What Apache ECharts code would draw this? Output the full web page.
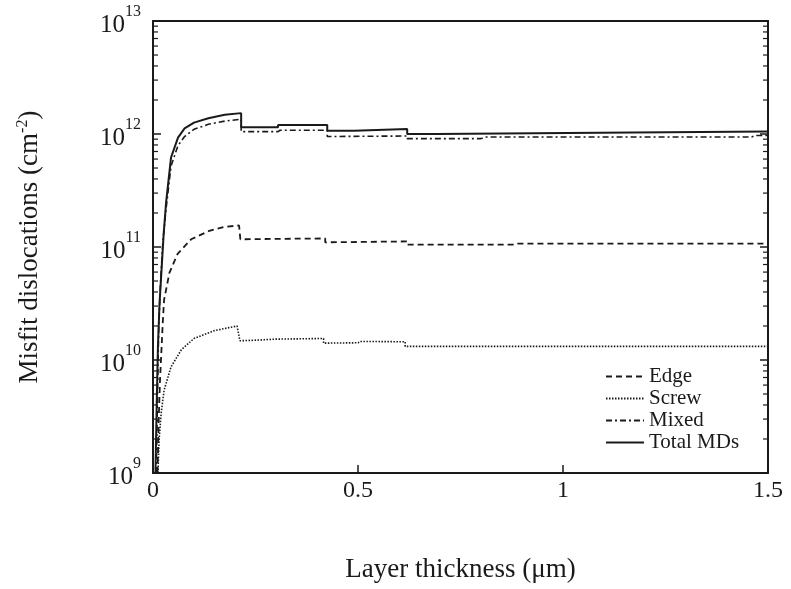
<!DOCTYPE html>
<html>
<head>
<meta charset="utf-8">
<script src="https://cdn.jsdelivr.net/npm/echarts@6/dist/echarts.min.js"></script>
<style>
  html, body { margin: 0; padding: 0; background: #fff; }
  #chart { width: 791px; height: 589px; }
</style>
</head>
<body>
<div id="chart"></div>
<script>
// [thickness (um), density (cm^-2)]
const edge = [
  [0.011, 1e9], [0.014, 3e9], [0.017, 6.5e9], [0.02, 1.1e10], [0.024, 2.2e10],
  [0.027, 3.4e10], [0.04, 5.9e10], [0.06, 8.7e10], [0.093, 1.17e11],
  [0.135, 1.38e11], [0.175, 1.51e11], [0.21, 1.55e11], [0.213, 1.17e11],
  [0.30, 1.18e11], [0.42, 1.19e11], [0.42, 1.1e11], [0.62, 1.12e11],
  [0.62, 1.05e11], [0.885, 1.05e11], [0.89, 1.07e11], [1.5, 1.07e11]
]
const screw = [
  [0.012, 1e9], [0.015, 2e9], [0.02, 3.4e9], [0.027, 5.4e9], [0.044, 8.7e9],
  [0.069, 1.23e10], [0.10, 1.55e10], [0.15, 1.82e10], [0.19, 1.95e10],
  [0.205, 2.0e10], [0.212, 1.48e10], [0.255, 1.5e10], [0.30, 1.53e10],
  [0.416, 1.55e10], [0.416, 1.41e10], [0.50, 1.42e10], [0.505, 1.46e10],
  [0.615, 1.45e10], [0.615, 1.32e10], [1.5, 1.32e10]
]
const mixed = [
  [0.008, 1e9], [0.011, 5e9], [0.014, 2e10], [0.018, 4.5e10], [0.024, 1.1e11],
  [0.032, 2.2e11], [0.044, 5.2e11], [0.061, 7.9e11], [0.077, 9.5e11],
  [0.10, 1.1e12], [0.135, 1.22e12], [0.175, 1.3e12], [0.215, 1.35e12],
  [0.215, 1.05e12], [0.305, 1.05e12], [0.31, 1.08e12], [0.425, 1.08e12],
  [0.425, 0.95e12], [0.62, 0.96e12], [0.62, 0.91e12], [0.80, 0.91e12],
  [0.81, 0.94e12], [1.46, 0.94e12], [1.47, 0.97e12], [1.5, 0.97e12]
]
const total = [
  [0.006, 1e9], [0.009, 4e9], [0.012, 1.3e10], [0.016, 3.2e10], [0.02, 5.6e10],
  [0.026, 1.3e11], [0.032, 2.5e11], [0.044, 6.2e11], [0.061, 9.3e11],
  [0.077, 1.12e12], [0.10, 1.26e12], [0.135, 1.38e12], [0.175, 1.48e12],
  [0.215, 1.53e12], [0.215, 1.15e12], [0.305, 1.15e12], [0.305, 1.2e12],
  [0.425, 1.2e12], [0.425, 1.07e12], [0.49, 1.07e12], [0.49, 1.11e12],
  [0.62, 1.11e12], [0.62, 1.0e12], [0.69, 1.0e12], [0.69, 1.03e12],
  [1.17, 1.03e12], [1.17, 1.05e12], [1.5, 1.05e12]
]

const seriesNames = ['Edge', 'Screw', 'Mixed', 'Total MDs']
const xTicks = [0, 0.5, 1, 1.5]
const decades = [9, 10, 11, 12]
const minorMults = [2, 3, 4, 5, 6, 7, 8, 9]

const minorTicks = []
decades.forEach(function (d) {
  minorMults.forEach(function (m) { minorTicks.push([0, m * Math.pow(10, d)]) })
})

const font = 'Liberation Serif'
const ink = '#1a1a1a'

const chart = echarts.init(document.getElementById('chart'))

function lineSeries(name, data, type, width) {
  return {
    name: name,
    type: 'line',
    data: data,
    symbol: 'none',
    lineStyle: { color: ink, width: width, type: type },
    itemStyle: { color: ink },
    z: 3
  }
}

const option = {
  backgroundColor: '#fff',
  animation: false,
  grid: { left: 153, right: 23, top: 21, bottom: 116 },
  legend: {
    data: seriesNames,
    orient: 'vertical',
    left: 600,
    top: 361,
    itemWidth: 38,
    itemHeight: 14,
    itemGap: 1,
    itemStyle: { opacity: 0 },
    textStyle: { fontFamily: font, fontSize: 21, color: ink }
  },
  xAxis: [{
    type: 'value',
    min: 0,
    max: 1.5,
    interval: 0.5,
    name: 'Layer thickness (μm)',
    nameLocation: 'middle',
    nameGap: 83,
    nameTextStyle: { fontFamily: font, fontSize: 27, color: ink },
    axisLine: { lineStyle: { color: ink, width: 2 } },
    axisTick: { inside: true, length: 8, lineStyle: { color: ink, width: 1.5 } },
    axisLabel: {
      margin: 6,
      fontFamily: font,
      fontSize: 24,
      color: ink,
      formatter: function (v) { return xTicks.indexOf(v) >= 0 ? String(v) : '' }
    },
    splitLine: { show: false }
  }, {
    type: 'value',
    position: 'top',
    min: 0,
    max: 1.5,
    interval: 0.5,
    axisLine: { show: true, onZero: false, lineStyle: { color: ink, width: 2 } },
    axisTick: { show: false },
    axisLabel: { show: false },
    splitLine: { show: false }
  }],
  yAxis: [{
    type: 'log',
    logBase: 10,
    min: 1e9,
    max: 1e13,
    name: 'Misfit dislocations (cm{s|-2})',
    nameLocation: 'middle',
    nameRotate: 90,
    nameGap: 108,
    nameTextStyle: {
      fontFamily: font,
      fontSize: 27,
      color: ink,
      rich: {
        s: { fontFamily: font, fontSize: 16, color: ink, verticalAlign: 'top', lineHeight: 30 }
      }
    },
    axisLine: { show: true, lineStyle: { color: ink, width: 2 } },
    axisTick: { inside: true, length: 8, lineStyle: { color: ink, width: 1.5 } },
    axisLabel: {
      margin: 12,
      fontFamily: font,
      color: ink,
      formatter: function (v) {
        return '{b|10}{s|' + Math.round(Math.log10(v)) + '}'
      },
      rich: {
        b: { fontFamily: font, fontSize: 25, color: ink, lineHeight: 34, verticalAlign: 'bottom' },
        s: { fontFamily: font, fontSize: 16, color: ink, lineHeight: 34, verticalAlign: 'top' }
      }
    },
    splitLine: { show: false }
  }, {
    type: 'log',
    logBase: 10,
    min: 1e9,
    max: 1e13,
    position: 'right',
    axisLine: { show: true, onZero: false, lineStyle: { color: ink, width: 2 } },
    axisTick: { inside: true, length: 8, lineStyle: { color: ink, width: 1.5 } },
    axisLabel: { show: false },
    splitLine: { show: false }
  }],
  series: [
    lineSeries('Edge', edge, [6, 4], 1.8),
    lineSeries('Screw', screw, [1.5, 1.5], 1.6),
    lineSeries('Mixed', mixed, [6, 3, 2, 3], 1.6),
    lineSeries('Total MDs', total, 'solid', 2),
    {
      // minor ticks of the log axes, placed through the axis scale
      type: 'custom',
      silent: true,
      clip: false,
      data: minorTicks,
      renderItem: function (params, api) {
        const v = api.value(1)
        const l = api.coord([0, v])
        const r = api.coord([1.5, v])
        return {
          type: 'group',
          children: [
            { type: 'line', shape: { x1: l[0], y1: l[1], x2: l[0] + 5, y2: l[1] },
              style: { stroke: ink, lineWidth: 1.2 } },
            { type: 'line', shape: { x1: r[0] - 5, y1: r[1], x2: r[0], y2: r[1] },
              style: { stroke: ink, lineWidth: 1.2 } }
          ]
        }
      },
      z: 4
    }
  ]
}

chart.setOption(option)
</script>
</body>
</html>
